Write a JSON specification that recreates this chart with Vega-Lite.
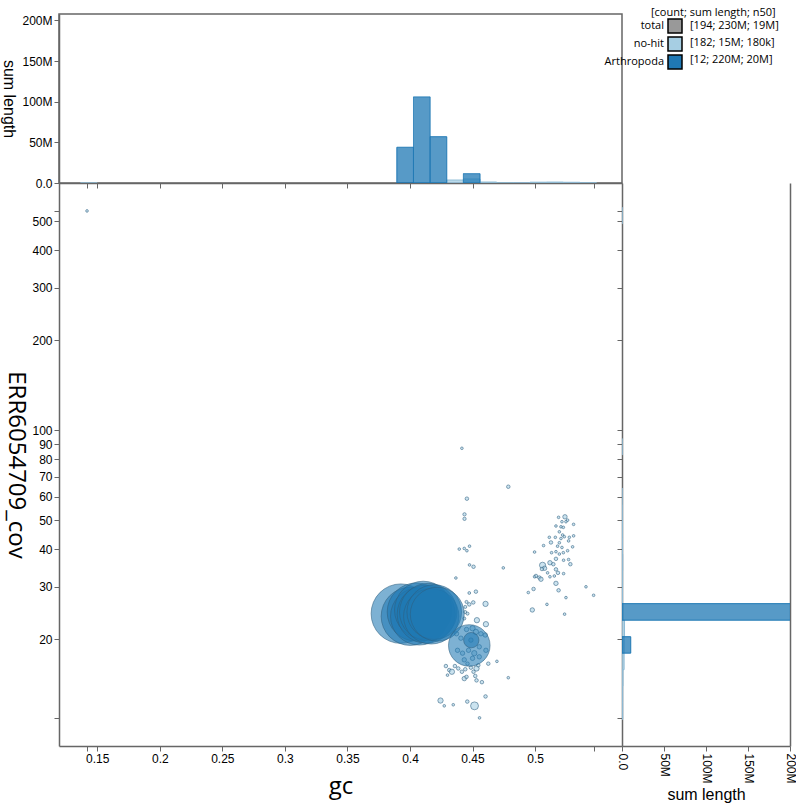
{
  "$schema": "https://vega.github.io/schema/vega-lite/v6.json",
  "padding": {"left": 0, "top": 6, "right": 0, "bottom": 0},
  "background": "white",
  "spacing": 0,
  "bounds": "flush",
  "resolve": {"legend": {"strokeDash": "independent"}},
  "config": {
    "view": {"stroke": null},
    "axis": {"grid": false, "domainColor": "#666", "domainWidth": 1.5, "tickColor": "#666", "tickWidth": 1, "tickSize": 5, "labelFont": "Liberation Sans", "labelFontSize": 12, "labelColor": "black", "titleFont": "Liberation Sans", "titleFontWeight": "normal", "titleColor": "black"}
  },
  "datasets": {
    "contigs": [
      {"gc":0.4415,"cov":87.1,"len":45000,"cat":"no-hit"},
      {"gc":0.4786,"cov":64.8,"len":80000,"cat":"no-hit"},
      {"gc":0.4455,"cov":59.1,"len":80000,"cat":"no-hit"},
      {"gc":0.4436,"cov":52.4,"len":70000,"cat":"no-hit"},
      {"gc":0.4436,"cov":50.6,"len":70000,"cat":"no-hit"},
      {"gc":0.4394,"cov":40.1,"len":45000,"cat":"no-hit"},
      {"gc":0.4434,"cov":40.3,"len":45000,"cat":"no-hit"},
      {"gc":0.4455,"cov":39.6,"len":45000,"cat":"no-hit"},
      {"gc":0.4476,"cov":41.0,"len":45000,"cat":"no-hit"},
      {"gc":0.4476,"cov":35.5,"len":45000,"cat":"no-hit"},
      {"gc":0.4508,"cov":35.0,"len":80000,"cat":"no-hit"},
      {"gc":0.4746,"cov":34.7,"len":45000,"cat":"no-hit"},
      {"gc":0.4367,"cov":32.1,"len":45000,"cat":"no-hit"},
      {"gc":0.4474,"cov":28.6,"len":50000,"cat":"no-hit"},
      {"gc":0.4527,"cov":28.9,"len":80000,"cat":"no-hit"},
      {"gc":0.4506,"cov":26.6,"len":80000,"cat":"no-hit"},
      {"gc":0.4474,"cov":26.2,"len":80000,"cat":"no-hit"},
      {"gc":0.4604,"cov":26.3,"len":180000,"cat":"no-hit"},
      {"gc":0.4535,"cov":23.2,"len":180000,"cat":"no-hit"},
      {"gc":0.4607,"cov":22.5,"len":180000,"cat":"no-hit"},
      {"gc":0.4442,"cov":24.7,"len":60000,"cat":"no-hit"},
      {"gc":0.4695,"cov":16.9,"len":45000,"cat":"no-hit"},
      {"gc":0.4626,"cov":16.6,"len":80000,"cat":"no-hit"},
      {"gc":0.4786,"cov":14.9,"len":45000,"cat":"no-hit"},
      {"gc":0.4575,"cov":14.4,"len":80000,"cat":"no-hit"},
      {"gc":0.4604,"cov":12.9,"len":80000,"cat":"no-hit"},
      {"gc":0.4244,"cov":12.5,"len":180000,"cat":"no-hit"},
      {"gc":0.4274,"cov":12.0,"len":45000,"cat":"no-hit"},
      {"gc":0.4346,"cov":12.1,"len":45000,"cat":"no-hit"},
      {"gc":0.4458,"cov":12.4,"len":80000,"cat":"no-hit"},
      {"gc":0.4516,"cov":12.0,"len":400000,"cat":"no-hit"},
      {"gc":0.4556,"cov":10.94,"len":45000,"cat":"no-hit"},
      {"gc":0.4287,"cov":16.3,"len":80000,"cat":"no-hit"},
      {"gc":0.4314,"cov":15.8,"len":80000,"cat":"no-hit"},
      {"gc":0.4335,"cov":15.6,"len":180000,"cat":"no-hit"},
      {"gc":0.4359,"cov":16.3,"len":80000,"cat":"no-hit"},
      {"gc":0.4386,"cov":16.0,"len":80000,"cat":"no-hit"},
      {"gc":0.4415,"cov":15.6,"len":80000,"cat":"no-hit"},
      {"gc":0.4442,"cov":15.9,"len":80000,"cat":"no-hit"},
      {"gc":0.446,"cov":16.6,"len":80000,"cat":"no-hit"},
      {"gc":0.4487,"cov":16.1,"len":80000,"cat":"no-hit"},
      {"gc":0.4508,"cov":15.6,"len":80000,"cat":"no-hit"},
      {"gc":0.4532,"cov":16.0,"len":180000,"cat":"no-hit"},
      {"gc":0.4546,"cov":16.4,"len":80000,"cat":"no-hit"},
      {"gc":0.4434,"cov":14.8,"len":125000,"cat":"no-hit"},
      {"gc":0.4452,"cov":15.0,"len":80000,"cat":"no-hit"},
      {"gc":0.43,"cov":15.2,"len":45000,"cat":"no-hit"},
      {"gc":0.4522,"cov":15.1,"len":80000,"cat":"no-hit"},
      {"gc":0.4532,"cov":14.6,"len":80000,"cat":"no-hit"},
      {"gc":0.4372,"cov":20.9,"len":125000,"cat":"no-hit"},
      {"gc":0.4407,"cov":20.2,"len":125000,"cat":"no-hit"},
      {"gc":0.4452,"cov":21.6,"len":125000,"cat":"no-hit"},
      {"gc":0.45,"cov":21.8,"len":180000,"cat":"no-hit"},
      {"gc":0.4527,"cov":21.2,"len":180000,"cat":"no-hit"},
      {"gc":0.4567,"cov":20.9,"len":125000,"cat":"no-hit"},
      {"gc":0.4602,"cov":20.7,"len":125000,"cat":"no-hit"},
      {"gc":0.438,"cov":18.4,"len":125000,"cat":"no-hit"},
      {"gc":0.442,"cov":18.0,"len":125000,"cat":"no-hit"},
      {"gc":0.4468,"cov":18.4,"len":125000,"cat":"no-hit"},
      {"gc":0.4514,"cov":18.0,"len":180000,"cat":"no-hit"},
      {"gc":0.4554,"cov":17.5,"len":125000,"cat":"no-hit"},
      {"gc":0.4607,"cov":18.4,"len":125000,"cat":"no-hit"},
      {"gc":0.4434,"cov":17.1,"len":125000,"cat":"no-hit"},
      {"gc":0.45,"cov":17.3,"len":125000,"cat":"no-hit"},
      {"gc":0.4554,"cov":18.9,"len":125000,"cat":"no-hit"},
      {"gc":0.4487,"cov":19.9,"len":125000,"cat":"no-hit"},
      {"gc":0.4452,"cov":26.7,"len":60000,"cat":"no-hit"},
      {"gc":0.4442,"cov":25.7,"len":60000,"cat":"no-hit"},
      {"gc":0.446,"cov":24.4,"len":60000,"cat":"no-hit"},
      {"gc":0.4434,"cov":23.5,"len":60000,"cat":"no-hit"},
      {"gc":0.1418,"cov":541.2,"len":45000,"cat":"no-hit"},
      {"gc":0.5239,"cov":51.4,"len":125000,"cat":"no-hit"},
      {"gc":0.5215,"cov":49.5,"len":45000,"cat":"no-hit"},
      {"gc":0.5188,"cov":51.2,"len":45000,"cat":"no-hit"},
      {"gc":0.5247,"cov":49.5,"len":45000,"cat":"no-hit"},
      {"gc":0.5308,"cov":48.5,"len":45000,"cat":"no-hit"},
      {"gc":0.526,"cov":50.1,"len":45000,"cat":"no-hit"},
      {"gc":0.5207,"cov":47.6,"len":45000,"cat":"no-hit"},
      {"gc":0.5226,"cov":47.4,"len":45000,"cat":"no-hit"},
      {"gc":0.5167,"cov":47.9,"len":45000,"cat":"no-hit"},
      {"gc":0.5194,"cov":45.8,"len":45000,"cat":"no-hit"},
      {"gc":0.522,"cov":44.7,"len":45000,"cat":"no-hit"},
      {"gc":0.5207,"cov":43.5,"len":45000,"cat":"no-hit"},
      {"gc":0.5234,"cov":44.1,"len":45000,"cat":"no-hit"},
      {"gc":0.5162,"cov":43.9,"len":45000,"cat":"no-hit"},
      {"gc":0.5114,"cov":43.9,"len":45000,"cat":"no-hit"},
      {"gc":0.5274,"cov":43.9,"len":45000,"cat":"no-hit"},
      {"gc":0.5308,"cov":44.4,"len":45000,"cat":"no-hit"},
      {"gc":0.5268,"cov":42.7,"len":45000,"cat":"no-hit"},
      {"gc":0.5194,"cov":42.1,"len":45000,"cat":"no-hit"},
      {"gc":0.5127,"cov":42.2,"len":80000,"cat":"no-hit"},
      {"gc":0.5068,"cov":41.2,"len":45000,"cat":"no-hit"},
      {"gc":0.53,"cov":40.8,"len":45000,"cat":"no-hit"},
      {"gc":0.518,"cov":41.0,"len":45000,"cat":"no-hit"},
      {"gc":0.5215,"cov":40.6,"len":45000,"cat":"no-hit"},
      {"gc":0.526,"cov":39.6,"len":45000,"cat":"no-hit"},
      {"gc":0.5167,"cov":39.3,"len":45000,"cat":"no-hit"},
      {"gc":0.5194,"cov":38.6,"len":45000,"cat":"no-hit"},
      {"gc":0.5226,"cov":39.0,"len":45000,"cat":"no-hit"},
      {"gc":0.5132,"cov":39.0,"len":45000,"cat":"no-hit"},
      {"gc":0.4996,"cov":39.2,"len":45000,"cat":"no-hit"},
      {"gc":0.5282,"cov":35.7,"len":80000,"cat":"no-hit"},
      {"gc":0.5268,"cov":37.0,"len":45000,"cat":"no-hit"},
      {"gc":0.5228,"cov":36.8,"len":45000,"cat":"no-hit"},
      {"gc":0.5167,"cov":37.2,"len":80000,"cat":"no-hit"},
      {"gc":0.5119,"cov":36.1,"len":125000,"cat":"no-hit"},
      {"gc":0.5146,"cov":35.7,"len":80000,"cat":"no-hit"},
      {"gc":0.506,"cov":35.4,"len":245000,"cat":"no-hit"},
      {"gc":0.5076,"cov":34.6,"len":125000,"cat":"no-hit"},
      {"gc":0.5055,"cov":34.4,"len":80000,"cat":"no-hit"},
      {"gc":0.5167,"cov":34.3,"len":80000,"cat":"no-hit"},
      {"gc":0.5183,"cov":33.4,"len":80000,"cat":"no-hit"},
      {"gc":0.5228,"cov":33.2,"len":45000,"cat":"no-hit"},
      {"gc":0.51,"cov":33.4,"len":45000,"cat":"no-hit"},
      {"gc":0.5154,"cov":32.6,"len":45000,"cat":"no-hit"},
      {"gc":0.5119,"cov":32.4,"len":45000,"cat":"no-hit"},
      {"gc":0.5007,"cov":32.6,"len":80000,"cat":"no-hit"},
      {"gc":0.5034,"cov":32.2,"len":80000,"cat":"no-hit"},
      {"gc":0.4996,"cov":32.4,"len":45000,"cat":"no-hit"},
      {"gc":0.5047,"cov":31.8,"len":125000,"cat":"no-hit"},
      {"gc":0.5167,"cov":30.8,"len":125000,"cat":"no-hit"},
      {"gc":0.5188,"cov":29.2,"len":80000,"cat":"no-hit"},
      {"gc":0.4988,"cov":29.5,"len":80000,"cat":"no-hit"},
      {"gc":0.4946,"cov":28.7,"len":45000,"cat":"no-hit"},
      {"gc":0.5247,"cov":27.6,"len":45000,"cat":"no-hit"},
      {"gc":0.5095,"cov":26.2,"len":45000,"cat":"no-hit"},
      {"gc":0.4978,"cov":25.1,"len":125000,"cat":"no-hit"},
      {"gc":0.5236,"cov":24.3,"len":45000,"cat":"no-hit"},
      {"gc":0.5407,"cov":30.0,"len":45000,"cat":"no-hit"},
      {"gc":0.5468,"cov":28.1,"len":45000,"cat":"no-hit"},
      {"gc":0.3927,"cov":24.4,"len":22500000,"cat":"Arthropoda"},
      {"gc":0.4002,"cov":23.9,"len":21500000,"cat":"Arthropoda"},
      {"gc":0.405,"cov":24.7,"len":21500000,"cat":"Arthropoda"},
      {"gc":0.4074,"cov":23.9,"len":21000000,"cat":"Arthropoda"},
      {"gc":0.4106,"cov":25.1,"len":21000000,"cat":"Arthropoda"},
      {"gc":0.413,"cov":24.3,"len":21500000,"cat":"Arthropoda"},
      {"gc":0.4146,"cov":24.7,"len":21000000,"cat":"Arthropoda"},
      {"gc":0.417,"cov":23.9,"len":19500000,"cat":"Arthropoda"},
      {"gc":0.4194,"cov":24.7,"len":19000000,"cat":"Arthropoda"},
      {"gc":0.4218,"cov":24.3,"len":18500000,"cat":"Arthropoda"},
      {"gc":0.4474,"cov":19.1,"len":11000000,"cat":"Arthropoda"},
      {"gc":0.449,"cov":19.9,"len":1500000,"cat":"Arthropoda"}
    ],
    "gcHist": [
      {"lo":0.1366,"hi":0.1499,"cat":"no-hit","sum":45000},
      {"lo":0.4028,"hi":0.4161,"cat":"no-hit","sum":400000},
      {"lo":0.4161,"hi":0.4294,"cat":"no-hit","sum":300000},
      {"lo":0.4294,"hi":0.4427,"cat":"no-hit","sum":3700000},
      {"lo":0.4427,"hi":0.456,"cat":"no-hit","sum":5000000},
      {"lo":0.456,"hi":0.4693,"cat":"no-hit","sum":1200000},
      {"lo":0.4693,"hi":0.4826,"cat":"no-hit","sum":300000},
      {"lo":0.4826,"hi":0.4959,"cat":"no-hit","sum":300000},
      {"lo":0.4959,"hi":0.5092,"cat":"no-hit","sum":1000000},
      {"lo":0.5092,"hi":0.5225,"cat":"no-hit","sum":1200000},
      {"lo":0.5225,"hi":0.5358,"cat":"no-hit","sum":900000},
      {"lo":0.5358,"hi":0.5491,"cat":"no-hit","sum":200000},
      {"lo":0.3895,"hi":0.4028,"cat":"Arthropoda","sum":44000000},
      {"lo":0.4028,"hi":0.4161,"cat":"Arthropoda","sum":106000000},
      {"lo":0.4161,"hi":0.4294,"cat":"Arthropoda","sum":57000000},
      {"lo":0.4427,"hi":0.456,"cat":"Arthropoda","sum":11500000}
    ],
    "covHist": [
      {"lo":10.82,"hi":12.29,"cat":"no-hit","sum":800000},
      {"lo":12.29,"hi":13.96,"cat":"no-hit","sum":800000},
      {"lo":13.96,"hi":15.85,"cat":"no-hit","sum":1200000},
      {"lo":15.85,"hi":18.0,"cat":"no-hit","sum":2500000},
      {"lo":18.0,"hi":20.43,"cat":"no-hit","sum":2500000},
      {"lo":20.43,"hi":23.2,"cat":"no-hit","sum":3000000},
      {"lo":23.2,"hi":26.35,"cat":"no-hit","sum":1000000},
      {"lo":26.35,"hi":29.92,"cat":"no-hit","sum":600000},
      {"lo":29.92,"hi":33.98,"cat":"no-hit","sum":700000},
      {"lo":33.98,"hi":38.59,"cat":"no-hit","sum":800000},
      {"lo":38.59,"hi":43.82,"cat":"no-hit","sum":600000},
      {"lo":43.82,"hi":49.76,"cat":"no-hit","sum":500000},
      {"lo":49.76,"hi":56.49,"cat":"no-hit","sum":300000},
      {"lo":56.49,"hi":64.13,"cat":"no-hit","sum":100000},
      {"lo":82.7,"hi":93.9,"cat":"no-hit","sum":45000},
      {"lo":490,"hi":556.7,"cat":"no-hit","sum":45000},
      {"lo":18.0,"hi":20.43,"cat":"Arthropoda","sum":10400000},
      {"lo":23.2,"hi":26.35,"cat":"Arthropoda","sum":206000000}
    ]
  },
  "vconcat": [
    {
      "width": 563,
      "height": 169,
      "view": {"stroke": "#666", "strokeWidth": 1.5},
      "data": {"name": "gcHist"},
      "mark": {"type": "bar", "fillOpacity": 0.75, "strokeWidth": 1, "clip": true},
      "encoding": {
        "x": {"field": "lo", "type": "quantitative", "scale": {"domain": [0.1194, 0.5695], "nice": false, "zero": false},
              "axis": {"values": [0.1418, 0.15, 0.2, 0.25, 0.3, 0.35, 0.4, 0.45, 0.5, 0.5468], "labels": false, "title": null}},
        "x2": {"field": "hi"},
        "y": {"field": "sum", "type": "quantitative", "scale": {"domain": [0, 208000000], "nice": false},
              "axis": {"values": [0, 50000000, 100000000, 150000000, 200000000], "labelExpr": "datum.value == 0 ? '0.0' : format(datum.value/1000000, 'd') + 'M'", "title": "sum length", "titleAngle": 90, "titleBaseline": "top", "titleFontSize": 16, "titlePadding": 5}},
        "y2": {"datum": 0},
        "fill": {"field": "cat", "type": "nominal", "scale": {"domain": ["total", "no-hit", "Arthropoda"], "range": ["#999999", "#a6cee3", "#1f78b4"]}, "legend": null},
        "stroke": {"field": "cat", "type": "nominal", "scale": {"domain": ["total", "no-hit", "Arthropoda"], "range": ["#777777", "#8dbbd6", "#1f78b4"]}, "legend": null},
        "strokeDash": {"field": "cat", "type": "nominal", "scale": {"domain": ["total", "no-hit", "Arthropoda"], "range": [[1, 0], [1, 0], [1, 0]]},
                       "legend": {"orient": "none", "legendX": 592, "legendY": -7, "title": "[count; sum length; n50]", "titleFont": "Open Sans", "titleFontSize": 11, "titleFontWeight": "normal", "titleColor": "black", "titlePadding": 0, "values": ["total", "no-hit", "Arthropoda"], "symbolType": "square", "symbolSize": 196, "symbolOpacity": 0, "symbolFillColor": "transparent", "symbolStrokeColor": "transparent", "labelExpr": "datum.label == 'total' ? '[194; 230M; 19M]' : datum.label == 'no-hit' ? '[182; 15M; 180k]' : '[12; 220M; 20M]'", "labelOffset": 23, "labelFont": "Open Sans", "labelFontSize": 11, "labelColor": "black", "rowPadding": 2, "padding": 0}}
      }
    },
    {
      "resolve": {"legend": {"fill": "independent"}},
      "hconcat": [
        {
          "width": 563,
          "height": 563,
          "data": {"name": "contigs"},
          "mark": {"type": "point", "filled": true, "fillOpacity": 0.58, "strokeOpacity": 0.8, "stroke": "#2f5f7f", "strokeWidth": 0.7},
          "encoding": {
            "x": {"field": "gc", "type": "quantitative", "scale": {"domain": [0.1194, 0.5695], "nice": false, "zero": false},
                  "axis": {"values": [0.1418, 0.15, 0.2, 0.25, 0.3, 0.35, 0.4, 0.45, 0.5, 0.5468], "format": "~g", "labelExpr": "datum.value < 0.149 || datum.value > 0.52 ? '' : datum.label", "title": "gc", "titleFont": "Open Sans", "titleFontSize": 24, "titlePadding": 10}},
            "y": {"field": "cov", "type": "quantitative", "scale": {"type": "log", "domain": [8.81, 671], "nice": false},
                  "axis": {"values": [10.94, 20, 30, 40, 50, 60, 70, 80, 90, 100, 200, 300, 400, 500, 541.2], "format": "d", "labelExpr": "datum.value < 15 || datum.value > 520 ? '' : datum.label", "title": "ERR6054709_cov", "titleAngle": 90, "titleBaseline": "top", "titleFont": "Open Sans", "titleFontSize": 24, "titlePadding": 4}},
            "size": {"field": "len", "type": "quantitative", "scale": {"type": "linear", "domain": [0, 21000000], "range": [0, 3300]}, "legend": null},
            "fill": {"field": "cat", "type": "nominal", "scale": {"domain": ["total", "no-hit", "Arthropoda"], "range": ["#999999", "#a6cee3", "#1f78b4"]},
                     "legend": {"orient": "none", "legendX": 608, "legendY": -165, "title": null, "values": ["total", "no-hit", "Arthropoda"], "symbolType": "square", "symbolSize": 196, "symbolOpacity": 1, "symbolStrokeColor": "black", "symbolStrokeWidth": 1.5, "labelAlign": "right", "labelOffset": -19, "labelFont": "Open Sans", "labelFontSize": 11, "labelColor": "black", "rowPadding": -2, "padding": 0, "fillColor": "white"}}
          }
        },
        {
          "width": 168,
          "height": 563,
          "data": {"name": "covHist"},
          "resolve": {"axis": {"y": "independent"}},
          "layer": [
            {
              "mark": {"type": "bar", "fillOpacity": 0.75, "strokeWidth": 1, "clip": true},
              "encoding": {
                "y": {"field": "lo", "type": "quantitative", "scale": {"type": "log", "domain": [8.81, 671], "nice": false},
                      "axis": {"values": [10.94, 20, 30, 40, 50, 60, 70, 80, 90, 100, 200, 300, 400, 500, 541.2], "labels": false, "title": null}},
                "y2": {"field": "hi"},
                "x": {"field": "sum", "type": "quantitative", "scale": {"domain": [0, 200000000], "nice": false},
                      "axis": {"values": [0, 50000000, 100000000, 150000000, 200000000], "labelExpr": "datum.value == 0 ? '0.0' : format(datum.value/1000000, 'd') + 'M'", "labelAngle": 90, "title": "sum length", "titleFontSize": 16, "titlePadding": 3}},
                "x2": {"datum": 0},
                "fill": {"field": "cat", "type": "nominal", "scale": {"domain": ["total", "no-hit", "Arthropoda"], "range": ["#999999", "#a6cee3", "#1f78b4"]}, "legend": null},
                "stroke": {"field": "cat", "type": "nominal", "scale": {"domain": ["total", "no-hit", "Arthropoda"], "range": ["#777777", "#8dbbd6", "#1f78b4"]}, "legend": null}
              }
            },
            {
              "mark": {"type": "bar", "opacity": 0, "clip": true},
              "encoding": {
                "y": {"field": "lo", "type": "quantitative", "axis": {"orient": "right", "labels": false, "ticks": false, "title": null}},
                "y2": {"field": "hi"},
                "x": {"field": "sum", "type": "quantitative"},
                "x2": {"datum": 0}
              }
            }
          ]
        }
      ],
      "spacing": 0,
      "bounds": "flush"
    }
  ]
}
